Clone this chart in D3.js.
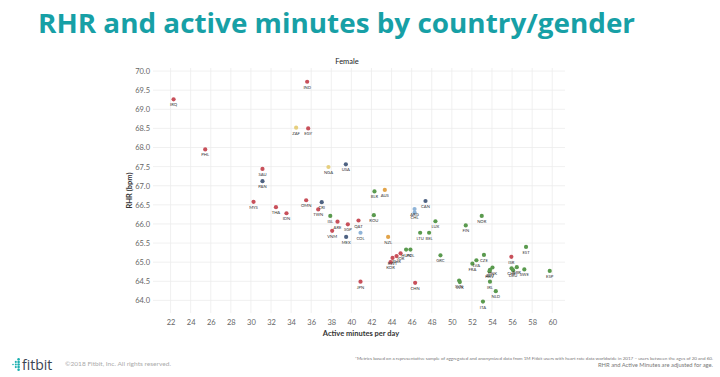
<!DOCTYPE html>
<html>
<head>
<meta charset="utf-8">
<script src="https://cdnjs.cloudflare.com/ajax/libs/d3/7.8.5/d3.min.js"></script>
<style>
  body { margin: 0; background: #fff; }
  svg { display: block; font-family: Lato, "Open Sans", sans-serif; }
</style>
</head>
<body>
<svg id="chart" width="720" height="377"></svg>
<script>
// country codes, active minutes per day, resting heart rate, region group
const countries = ["IRQ","PHL","ZAF","EGY","IND","SAU","PAN","MYS","THA","IDN","OMN","CRI","TWN","ISL","ARE","VNM","SGP","QAT","MEX","COL","NGA","USA","BLR","AUS","ROU","NZL","ARG","CHL","CAN","LTU","BEL","LUX","FIN","NOR","GRC","HUN","POL","KWT","BHR","JOR","KOR","JPN","CHN","SVN","SVK","FRA","LVA","CZE","DNK","AUT","HRV","IRL","NLD","ITA","ISR","CHE","DEU","GBR","SWE","EST","ESP"];
const minutes = [22.3,25.45,34.5,35.7,35.6,31.15,31.15,30.26,32.49,33.54,35.5,37.05,36.7,37.9,38.62,38.09,39.65,40.71,39.48,40.91,37.72,39.45,42.3,43.33,42.24,43.66,46.29,46.3,47.38,46.85,47.74,48.37,51.39,52.98,48.87,45.45,45.88,44.1,44.5,44.9,43.9,40.91,46.35,50.73,50.8,52.05,52.45,53.2,54.05,53.8,53.75,53.8,54.38,53.1,55.93,55.95,56.1,56.47,57.22,57.39,59.75];
const rhr = [69.26,67.95,68.52,68.5,69.72,67.44,67.12,66.58,66.44,66.28,66.62,66.57,66.38,66.21,66.06,65.82,65.99,66.09,65.66,65.77,67.49,67.56,66.85,66.89,66.23,65.66,66.39,66.3,66.6,65.77,65.77,66.07,65.96,66.21,65.18,65.33,65.33,65.11,65.16,65.23,65.0,64.49,64.46,64.52,64.48,64.96,65.05,65.19,64.86,64.8,64.76,64.49,64.24,63.97,65.14,64.84,64.79,64.87,64.81,65.4,64.77];
const regions = ["asia","asia","africa","asia","asia","asia","nam","asia","asia","asia","asia","nam","asia","europe","asia","asia","asia","asia","nam","sam","africa","nam","europe","oceania","europe","oceania","sam","sam","nam","europe","europe","europe","europe","europe","europe","europe","europe","asia","asia","asia","asia","asia","asia","europe","europe","europe","europe","europe","europe","europe","europe","europe","europe","europe","asia","europe","europe","europe","europe","europe","europe"];

const xTicks = d3.range(22, 61, 2);
const yTicks = d3.range(64, 70.01, 0.5);

const regionColor = d3.scaleOrdinal()
  .domain(["asia","europe","nam","sam","africa","oceania"])
  .range(["#c8505a","#5a9a4e","#4e6282","#8fb4d8","#e6cf7e","#e2a44a"]);

const svg = d3.select("#chart");
const plot = {left: 153, right: 565, top: 68, bottom: 313};

const x = d3.scaleLinear().domain([20.25, 61.27]).range([plot.left, plot.right]);
const y = d3.scaleLinear().domain([63.67, 70.08]).range([plot.bottom, plot.top]);

// title
svg.append("text")
  .attr("x", 38).attr("y", 33)
  .attr("font-family", "'Open Sans', sans-serif")
  .attr("font-weight", 700).attr("font-size", 26)
  .attr("fill", "#17a0a6")
  .attr("textLength", 597).attr("lengthAdjust", "spacingAndGlyphs")
  .text("RHR and active minutes by country/gender");

svg.append("text")
  .attr("x", 347).attr("y", 64)
  .attr("text-anchor", "middle")
  .attr("font-size", 7.5).attr("fill", "#222")
  .text("Female");

// grid
svg.append("g").selectAll("line").data(yTicks).join("line")
  .attr("x1", plot.left).attr("x2", plot.right)
  .attr("y1", d => y(d)).attr("y2", d => y(d))
  .attr("stroke", "#ececec").attr("stroke-width", 0.8);
svg.append("g").selectAll("line").data(xTicks).join("line")
  .attr("x1", d => x(d)).attr("x2", d => x(d))
  .attr("y1", plot.top).attr("y2", plot.bottom)
  .attr("stroke", "#ececec").attr("stroke-width", 0.8);

// axes
const xAxis = d3.axisBottom(x).tickValues(xTicks).tickSize(0).tickPadding(7);
const yAxis = d3.axisLeft(y).tickValues(yTicks).tickFormat(d3.format(".1f")).tickSize(0).tickPadding(3);

const gx = svg.append("g").attr("transform", "translate(0," + plot.bottom + ")").call(xAxis);
const gy = svg.append("g").attr("transform", "translate(" + plot.left + ",0)").call(yAxis);
[gx, gy].forEach(g => {
  g.select(".domain").remove();
  g.selectAll("text").attr("font-family", "Lato, sans-serif").attr("font-size", 7.5).attr("fill", "#666");
});

svg.append("text")
  .attr("x", 361).attr("y", 336)
  .attr("text-anchor", "middle")
  .attr("font-size", 7.5).attr("font-weight", 700).attr("fill", "#333")
  .text("Active minutes per day");

svg.append("text")
  .attr("transform", "translate(132," + ((plot.top + plot.bottom) / 2) + ") rotate(-90)")
  .attr("text-anchor", "middle")
  .attr("font-size", 7.5).attr("font-weight", 700).attr("fill", "#333")
  .text("RHR (bpm)");

// points
const pts = countries.map((c, i) => ({code: c, x: minutes[i], y: rhr[i], region: regions[i]}));

svg.append("g").selectAll("circle").data(pts).join("circle")
  .attr("cx", d => x(d.x)).attr("cy", d => y(d.y))
  .attr("r", 2.1)
  .attr("fill", d => regionColor(d.region));

svg.append("g").selectAll("text").data(pts).join("text")
  .attr("x", d => x(d.x)).attr("y", d => y(d.y) + 7)
  .attr("text-anchor", "middle")
  .attr("font-size", 4.2).attr("fill", "#333")
  .text(d => d.code);

// footer
const logo = svg.append("g").attr("fill", "#1cb0b0");
const logoCols = [[0], [-2.6, 0, 2.6], [-5.2, -2.6, 0, 2.6, 5.2]];
logoCols.forEach((col, ci) => {
  col.forEach(dy => {
    logo.append("circle")
      .attr("cx", 13 + ci * 2.8).attr("cy", 364.5 + dy)
      .attr("r", 0.8 + ci * 0.25);
  });
});

svg.append("text")
  .attr("x", 22).attr("y", 369.5)
  .attr("font-family", "'Open Sans', sans-serif")
  .attr("font-size", 14).attr("fill", "#3a4452")
  .text("fitbit");

svg.append("text")
  .attr("x", 65).attr("y", 366)
  .attr("font-size", 5).attr("fill", "#aaa")
  .attr("textLength", 106).attr("lengthAdjust", "spacingAndGlyphs")
  .text("©2018 Fitbit, Inc. All rights reserved.");

svg.append("text")
  .attr("x", 713).attr("y", 360)
  .attr("text-anchor", "end")
  .attr("font-size", 4.3).attr("fill", "#777")
  .attr("textLength", 358).attr("lengthAdjust", "spacingAndGlyphs")
  .text("*Metrics based on a representative sample of aggregated and anonymized data from 1M Fitbit users with heart rate data worldwide in 2017 – users between the ages of 20 and 60.");

svg.append("text")
  .attr("x", 713).attr("y", 367)
  .attr("text-anchor", "end")
  .attr("font-size", 5).attr("fill", "#777")
  .attr("textLength", 115).attr("lengthAdjust", "spacingAndGlyphs")
  .text("RHR and Active Minutes are adjusted for age.");
</script>
</body>
</html>
